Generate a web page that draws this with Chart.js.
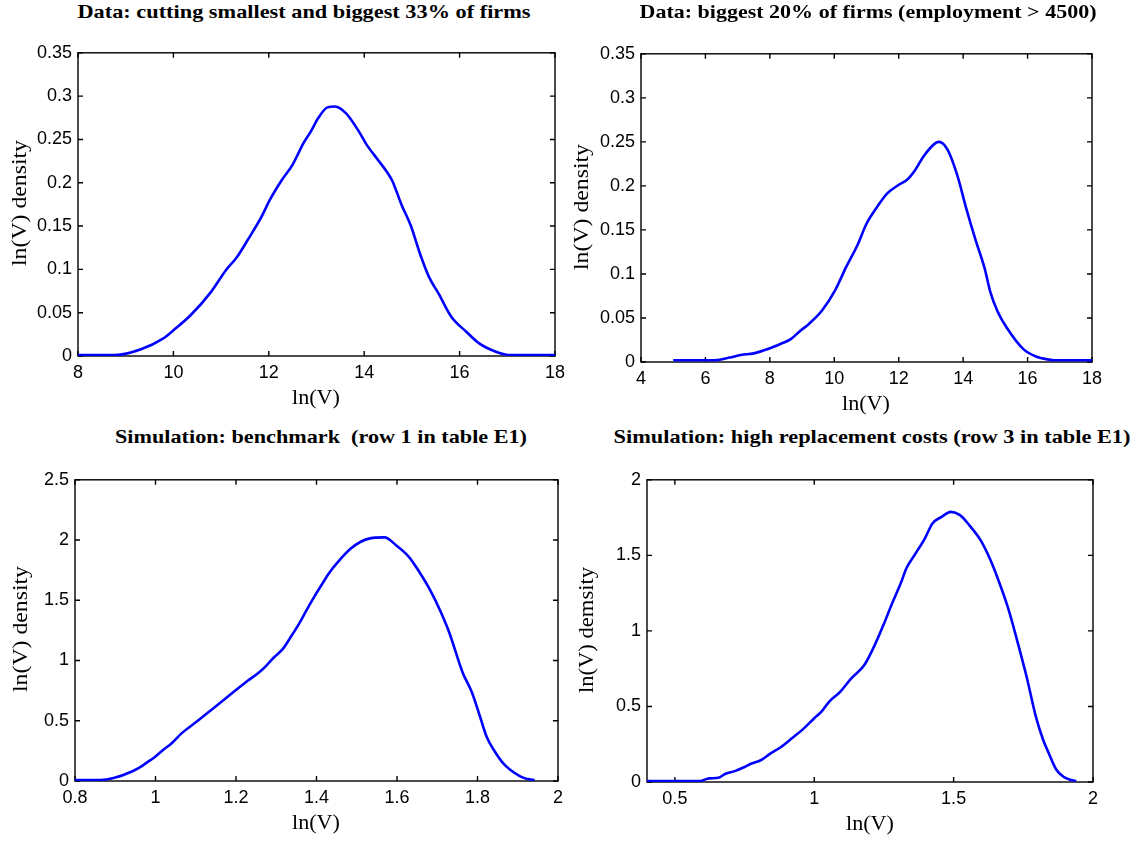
<!DOCTYPE html>
<html>
<head>
<meta charset="utf-8">
<script src="https://cdn.jsdelivr.net/npm/chart.js@4.4.1/dist/chart.umd.min.js"></script>
<style>
  html, body { margin: 0; padding: 0; background: #ffffff; }
  body { width: 1146px; height: 841px; position: relative; overflow: hidden; }
  canvas { position: absolute; }
  .txt { position: absolute; white-space: nowrap; line-height: 1; color: #000; }
</style>
</head>
<body>
<script>
// ---------- Data ----------
// Panel 1: Data, cutting smallest and biggest 33% of firms
const p1X = [8, 8.4, 8.78, 9.32, 9.78, 10.05, 10.36, 10.79, 11.10, 11.33, 11.57, 11.84, 12.03, 12.26, 12.50, 12.73, 12.88, 13.04, 13.23, 13.39, 13.62, 13.89, 14.05, 14.28, 14.47, 14.59, 14.78, 14.98, 15.17, 15.36, 15.56, 15.83, 16.14, 16.41, 16.76, 17.07, 17.5, 18];
const p1Y = [0.001, 0.001, 0.001, 0.0077, 0.020, 0.032, 0.047, 0.074, 0.099, 0.114, 0.135, 0.160, 0.181, 0.202, 0.221, 0.246, 0.259, 0.275, 0.287, 0.288, 0.280, 0.259, 0.244, 0.227, 0.213, 0.202, 0.175, 0.150, 0.118, 0.091, 0.072, 0.045, 0.028, 0.0145, 0.005, 0.001, 0.001, 0.001];
const p1XTicks = [8, 10, 12, 14, 16, 18];
const p1YTicks = [0, 0.05, 0.1, 0.15, 0.2, 0.25, 0.3, 0.35];

// Panel 2: Data, biggest 20% of firms
const p2X = [5, 6.3, 6.75, 7.1, 7.5, 7.96, 8.36, 8.65, 8.93, 9.22, 9.62, 10.02, 10.37, 10.71, 11.0, 11.29, 11.63, 11.98, 12.26, 12.49, 12.78, 13.12, 13.25, 13.52, 13.81, 14.1, 14.39, 14.67, 14.84, 15.07, 15.36, 15.88, 16.28, 16.62, 16.85, 18];
const p2Y = [0.002, 0.002, 0.005, 0.008, 0.0098, 0.015, 0.021, 0.026, 0.035, 0.0435, 0.0585, 0.081, 0.108, 0.132, 0.157, 0.174, 0.191, 0.2007, 0.207, 0.217, 0.234, 0.248, 0.250, 0.241, 0.213, 0.174, 0.138, 0.106, 0.080, 0.0574, 0.0386, 0.0143, 0.006, 0.003, 0.002, 0.002];
const p2XTicks = [4, 6, 8, 10, 12, 14, 16, 18];
const p2YTicks = [0, 0.05, 0.1, 0.15, 0.2, 0.25, 0.3, 0.35];

// Panel 3: Simulation benchmark
const p3X = [0.8, 0.862, 0.898, 0.94, 0.963, 0.981, 0.997, 1.018, 1.041, 1.064, 1.101, 1.147, 1.193, 1.229, 1.257, 1.275, 1.294, 1.317, 1.335, 1.358, 1.376, 1.395, 1.413, 1.431, 1.454, 1.486, 1.51, 1.533, 1.569, 1.597, 1.629, 1.652, 1.684, 1.708, 1.73, 1.763, 1.786, 1.804, 1.823, 1.841, 1.864, 1.882, 1.905, 1.924, 1.942];
const p3Y = [0.008, 0.008, 0.027, 0.077, 0.118, 0.159, 0.195, 0.255, 0.316, 0.393, 0.489, 0.613, 0.736, 0.832, 0.901, 0.956, 1.025, 1.099, 1.19, 1.313, 1.423, 1.533, 1.629, 1.725, 1.821, 1.931, 1.986, 2.014, 2.022, 1.959, 1.863, 1.753, 1.574, 1.409, 1.231, 0.901, 0.736, 0.558, 0.365, 0.255, 0.146, 0.091, 0.041, 0.016, 0.008];
const p3XTicks = [0.8, 1, 1.2, 1.4, 1.6, 1.8, 2];
const p3YTicks = [0, 0.5, 1, 1.5, 2, 2.5];

// Panel 4: Simulation high replacement costs
const p4X = [0.4, 0.589, 0.623, 0.656, 0.682, 0.715, 0.748, 0.775, 0.808, 0.841, 0.881, 0.921, 0.96, 1.0, 1.026, 1.053, 1.093, 1.132, 1.179, 1.219, 1.252, 1.278, 1.311, 1.331, 1.364, 1.397, 1.424, 1.457, 1.49, 1.523, 1.556, 1.596, 1.629, 1.662, 1.695, 1.728, 1.762, 1.795, 1.821, 1.841, 1.868, 1.894, 1.921, 1.94];
const p4Y = [0.007, 0.007, 0.024, 0.028, 0.055, 0.072, 0.098, 0.122, 0.144, 0.186, 0.232, 0.291, 0.35, 0.422, 0.466, 0.531, 0.597, 0.684, 0.772, 0.914, 1.056, 1.176, 1.318, 1.416, 1.514, 1.613, 1.711, 1.755, 1.788, 1.766, 1.70, 1.602, 1.482, 1.329, 1.154, 0.936, 0.695, 0.433, 0.28, 0.192, 0.083, 0.035, 0.013, 0.007];
const p4XTicks = [0.5, 1, 1.5, 2];
const p4YTicks = [0, 0.5, 1, 1.5, 2];

const titles = [
  "Data: cutting smallest and biggest 33% of firms",
  "Data: biggest 20% of firms (employment > 4500)",
  "Simulation: benchmark\u00a0 (row 1 in table E1)",
  "Simulation: high replacement costs (row 3 in table E1)"
];
const xLabel = "ln(V)";
const yLabels = ["ln(V) density", "ln(V) density", "ln(V) density", "ln(V) demsity"];

// ---------- Layout ----------
const PAD_L = 70, PAD_T = 15, PAD_R = 25, PAD_B = 40;
const panels = [
  { xs: p1X, ys: p1Y, xt: p1XTicks, yt: p1YTicks, xmin: 8, xmax: 18, ymin: 0, ymax: 0.35,
    area: { l: 78, t: 51, r: 555, b: 356 },
    title: { cx: 303.5, cy: 12, w: 453 }, xl: { cx: 316, cy: 397 }, yl: { cx: 19, cy: 203 } },
  { xs: p2X, ys: p2Y, xt: p2XTicks, yt: p2YTicks, xmin: 4, xmax: 18, ymin: 0, ymax: 0.35,
    area: { l: 641, t: 52, r: 1092, b: 362 },
    title: { cx: 868, cy: 12, w: 457 }, xl: { cx: 866, cy: 403 }, yl: { cx: 581, cy: 207 } },
  { xs: p3X, ys: p3Y, xt: p3XTicks, yt: p3YTicks, xmin: 0.8, xmax: 2, ymin: 0, ymax: 2.5,
    area: { l: 75, t: 478, r: 558, b: 781 },
    title: { cx: 321, cy: 437, w: 412 }, xl: { cx: 316, cy: 822 }, yl: { cx: 20, cy: 629 } },
  { xs: p4X, ys: p4Y, xt: p4XTicks, yt: p4YTicks, xmin: 0.4, xmax: 2, ymin: 0, ymax: 2,
    area: { l: 647, t: 478, r: 1093, b: 782 },
    title: { cx: 871.5, cy: 437, w: 517 }, xl: { cx: 870, cy: 823 }, yl: { cx: 586, cy: 630 } }
];

function addText(str, cx, cy, font, targetW, rotate) {
  const d = document.createElement('div');
  d.className = 'txt';
  d.textContent = str;
  d.style.left = cx + 'px';
  d.style.top = cy + 'px';
  d.style.font = font;
  document.body.appendChild(d);
  const w = d.getBoundingClientRect().width;
  const k = targetW ? targetW / w : 1;
  d.style.transform = 'translate(-50%,-50%)' + (rotate ? ' rotate(-90deg)' : '') + ' scaleX(' + k + ')';
}

const frameAndTicks = {
  id: 'frameAndTicks',
  beforeDatasetsDraw(chart) {
    const { ctx, chartArea: a, scales: { x, y } } = chart;
    ctx.save();
    ctx.strokeStyle = '#000';
    ctx.lineWidth = 1.4;
    ctx.strokeRect(a.left, a.top, a.right - a.left, a.bottom - a.top);
    const TL = 5;
    ctx.beginPath();
    x.ticks.forEach(t => {
      const px = x.getPixelForValue(t.value);
      ctx.moveTo(px, a.bottom); ctx.lineTo(px, a.bottom - TL);
      ctx.moveTo(px, a.top); ctx.lineTo(px, a.top + TL);
    });
    y.ticks.forEach(t => {
      const py = y.getPixelForValue(t.value);
      ctx.moveTo(a.left, py); ctx.lineTo(a.left + TL, py);
      ctx.moveTo(a.right, py); ctx.lineTo(a.right - TL, py);
    });
    ctx.stroke();
    ctx.restore();
  }
};

const fmt = v => String(+(+v).toFixed(4));

panels.forEach((p, i) => {
  const W = p.area.r - p.area.l, H = p.area.b - p.area.t;
  const cv = document.createElement('canvas');
  const cw = W + PAD_L + PAD_R, ch = H + PAD_T + PAD_B;
  cv.width = cw; cv.height = ch;
  cv.style.left = (p.area.l - PAD_L) + 'px';
  cv.style.top = (p.area.t - PAD_T) + 'px';
  cv.style.width = cw + 'px'; cv.style.height = ch + 'px';
  document.body.appendChild(cv);

  const pts = p.xs.map((xv, j) => ({ x: xv, y: p.ys[j] }));
  const tickFont = { family: "'Liberation Sans', Arial, sans-serif", size: 18 };

  new Chart(cv, {
    type: 'line',
    data: { datasets: [{ data: pts, borderColor: '#0000ff', borderWidth: 2.6,
      pointRadius: 0, fill: false, cubicInterpolationMode: 'monotone' }] },
    options: {
      responsive: false, animation: false, events: [],
      layout: { padding: { top: PAD_T, right: PAD_R, left: 0, bottom: 0 } },
      plugins: { legend: { display: false }, tooltip: { enabled: false }, title: { display: false } },
      scales: {
        x: {
          type: 'linear', min: p.xmin, max: p.xmax,
          afterBuildTicks: s => { s.ticks = p.xt.map(v => ({ value: v })); },
          afterFit: s => { s.height = PAD_B; },
          grid: { display: false, drawTicks: false },
          border: { display: false },
          ticks: { color: '#000', font: tickFont, padding: 6, autoSkip: false, maxRotation: 0, callback: fmt }
        },
        y: {
          type: 'linear', min: p.ymin, max: p.ymax,
          afterBuildTicks: s => { s.ticks = p.yt.map(v => ({ value: v })); },
          afterFit: s => { s.width = PAD_L; },
          grid: { display: false, drawTicks: false },
          border: { display: false },
          ticks: { color: '#000', font: tickFont, padding: 6, autoSkip: false, callback: fmt }
        }
      }
    },
    plugins: [frameAndTicks]
  });

  addText(titles[i], p.title.cx, p.title.cy, "bold 19px 'Liberation Serif', 'DejaVu Serif', serif", p.title.w, false);
  addText(xLabel, p.xl.cx, p.xl.cy, "22px 'Liberation Serif', 'DejaVu Serif', serif", 48, false);
  addText(yLabels[i], p.yl.cx, p.yl.cy, "22px 'Liberation Serif', 'DejaVu Serif', serif", 126, true);
});
</script>
</body>
</html>
